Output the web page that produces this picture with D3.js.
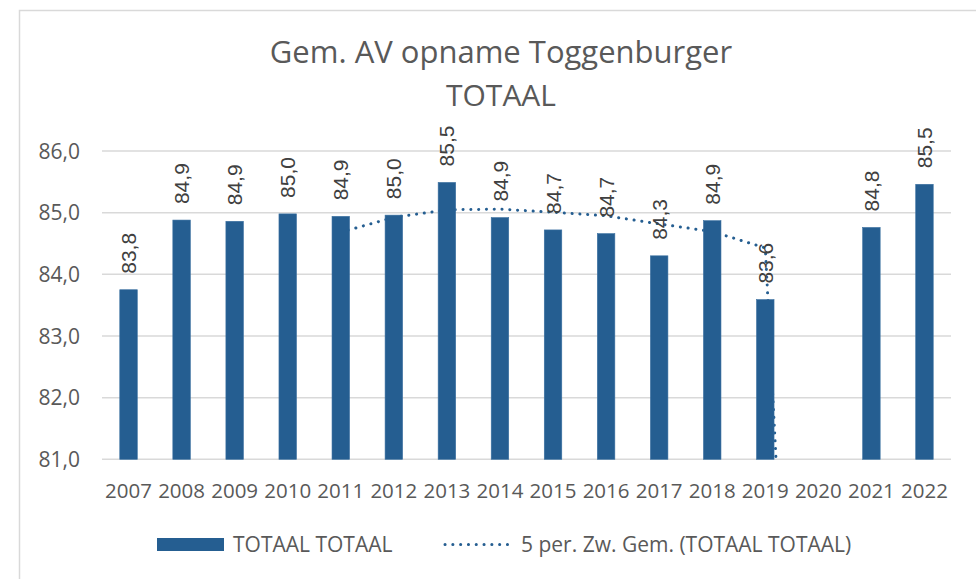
<!DOCTYPE html>
<html>
<head>
  <meta charset="utf-8">
  <title>Gem. AV opname Toggenburger TOTAAL</title>
  <style>
    body { margin: 0; background: #fff; }
    text { font-family: "Open Sans", sans-serif; fill: #595959; }
    .lbl { font-family: "Liberation Sans", Arial, sans-serif; fill: #404040; }
  </style>
</head>
<body>
  <svg width="976" height="579"></svg>
  <script src="https://cdn.jsdelivr.net/npm/d3@7"></script>
  <script>
  // data
  const years = ["2007","2008","2009","2010","2011","2012","2013","2014","2015","2016","2017","2018","2019","2020","2021","2022"];
  const totaal = [83.75, 84.88, 84.86, 84.98, 84.94, 84.96, 85.49, 84.92, 84.72, 84.66, 84.30, 84.87, 83.59, null, 84.76, 85.46];
  const yTicks = [81, 82, 83, 84, 85, 86];
  const period = 5;

  const svg = d3.select("svg");
  const blue = "#255e91";
  const grid = "#d9d9d9";
  const fmt = v => v.toFixed(1).replace(".", ",");

  // chart frame
  svg.append("rect")
    .attr("x", 19.5).attr("y", 10.5)
    .attr("width", 1000).attr("height", 700)
    .attr("fill", "none").attr("stroke", grid).attr("stroke-width", 1.5);

  let x = d3.scaleBand()
    .domain(years)
    .range([102, 951])
    .paddingInner(0.67)
    .paddingOuter(0.335);

  let y = d3.scaleLinear()
    .domain([81, 86])
    .range([459.3, 151]);

  // title
  svg.append("text")
    .attr("x", 501).attr("y", 63)
    .attr("text-anchor", "middle")
    .attr("font-size", 31)
    .text("Gem. AV opname Toggenburger");
  svg.append("text")
    .attr("x", 501).attr("y", 106)
    .attr("text-anchor", "middle")
    .attr("font-size", 30)
    .text("TOTAAL");

  // gridlines
  svg.selectAll(".grid")
    .data(yTicks)
    .enter()
    .append("line")
    .attr("class", "grid")
    .attr("x1", 102).attr("x2", 951)
    .attr("y1", d => y(d)).attr("y2", d => y(d))
    .attr("stroke", grid).attr("stroke-width", 1.5);

  // y labels
  svg.selectAll(".ytick")
    .data(yTicks)
    .enter()
    .append("text")
    .attr("class", "ytick")
    .attr("x", 80)
    .attr("y", d => y(d))
    .attr("dy", "0.36em")
    .attr("text-anchor", "end")
    .attr("font-size", 21)
    .text(fmt);

  // x labels
  svg.selectAll(".xtick")
    .data(years)
    .enter()
    .append("text")
    .attr("class", "xtick")
    .attr("x", d => x(d) + x.bandwidth() / 2)
    .attr("y", 498)
    .attr("text-anchor", "middle")
    .attr("font-size", 20.5)
    .text(d => d);

  // 5 period moving average (empty year counts as 0, as in the original)
  let ma = years.map((yr, i) => {
    if (i < period - 1) return null;
    let s = 0;
    for (let k = i - period + 1; k <= i; k++) s += totaal[k] || 0;
    return s / period;
  });

  svg.append("clipPath").attr("id", "plot")
    .append("rect")
    .attr("x", 102).attr("y", 140)
    .attr("width", 849).attr("height", 459.3 - 140);

  let line = d3.line()
    .defined(d => d != null)
    .x((d, i) => x(years[i]) + x.bandwidth() / 2)
    .y(d => y(d));

  svg.append("path")
    .datum(ma)
    .attr("clip-path", "url(#plot)")
    .attr("fill", "none")
    .attr("stroke", blue)
    .attr("stroke-width", 3)
    .attr("stroke-linecap", "round")
    .attr("stroke-dasharray", "0.1 7.7")
    .attr("d", line);

  // bars
  let bars = years.map((yr, i) => ({ year: yr, value: totaal[i] })).filter(d => d.value != null);

  svg.selectAll(".bar")
    .data(bars)
    .enter()
    .append("rect")
    .attr("class", "bar")
    .attr("x", d => x(d.year))
    .attr("y", d => y(d.value))
    .attr("width", x.bandwidth())
    .attr("height", d => y(81) - y(d.value))
    .attr("fill", blue)
    .attr("stroke", "#3a70a0")
    .attr("stroke-width", 0.6);

  // data labels
  svg.selectAll(".lbl")
    .data(bars)
    .enter()
    .append("text")
    .attr("class", "lbl")
    .attr("font-size", 21)
    .attr("transform", d => "translate(" + (x(d.year) + x.bandwidth() / 2) + "," + (y(d.value) - 16) + ") rotate(-90)")
    .attr("dy", "0.36em")
    .text(d => fmt(d.value));

  // legend
  svg.append("rect")
    .attr("x", 157).attr("y", 538)
    .attr("width", 67).attr("height", 13)
    .attr("fill", blue);
  svg.append("text")
    .attr("x", 233).attr("y", 552)
    .attr("font-size", 21)
    .text("TOTAAL TOTAAL");
  svg.append("line")
    .attr("x1", 445).attr("x2", 512)
    .attr("y1", 544.5).attr("y2", 544.5)
    .attr("stroke", blue)
    .attr("stroke-width", 3)
    .attr("stroke-linecap", "round")
    .attr("stroke-dasharray", "0.1 7.7");
  svg.append("text")
    .attr("x", 521).attr("y", 552)
    .attr("font-size", 21)
    .text("5 per. Zw. Gem. (TOTAAL TOTAAL)");
  </script>
</body>
</html>
